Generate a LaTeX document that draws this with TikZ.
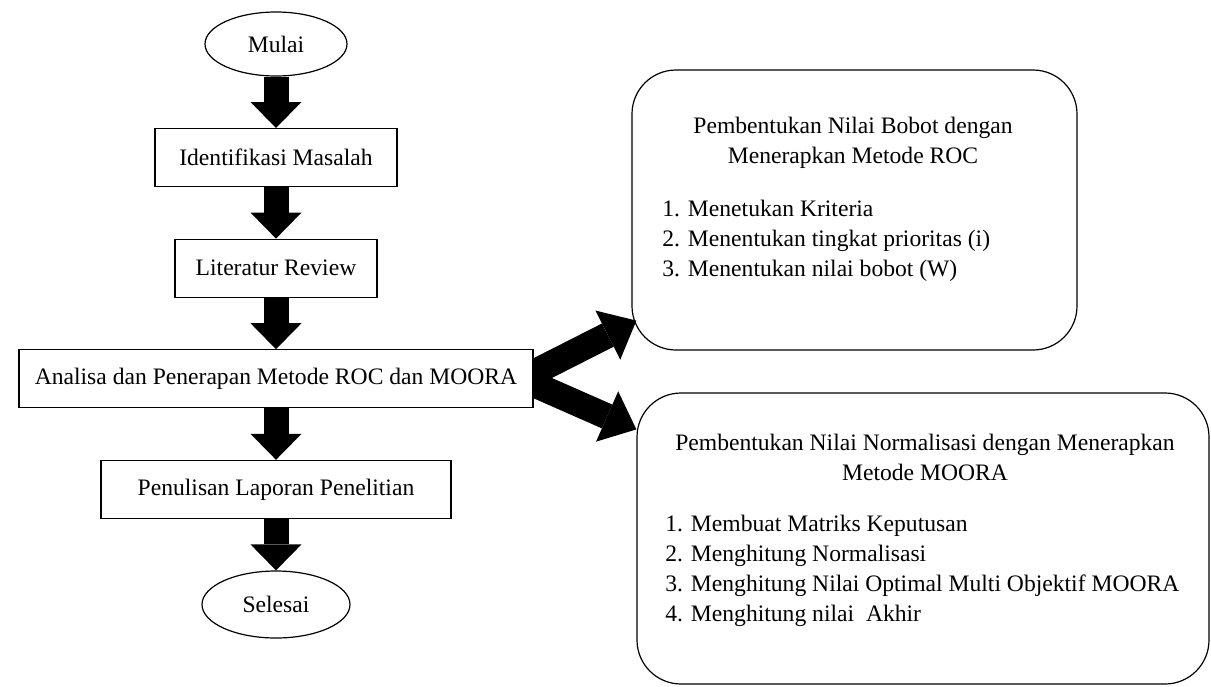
\documentclass[tikz,border=0pt]{standalone}
\usepackage{fontspec}
\setmainfont{Liberation Serif}
\usetikzlibrary{shapes, arrows.meta, positioning, calc, backgrounds}

\begin{document}
\begin{tikzpicture}[
  font=\fontsize{11.8}{15}\selectfont,
  terminal/.style={ellipse, draw=black, line width=0.6pt, fill=white, inner sep=0pt, minimum width=71pt, minimum height=32pt},
  process/.style={rectangle, draw=black, line width=0.6pt, fill=white, minimum height=29pt},
  roundbox/.style={rectangle, draw=black, line width=0.6pt, rounded corners=22pt},
  fatarrow/.style={line width=12.5pt, -{Triangle[width=25.5pt, length=13pt, line width=0pt]}},
  slantarrow/.style={line width=13pt, -{Triangle[width=27.5pt, length=16pt, line width=0pt]}},
  node distance=25.7pt
]
  \useasboundingbox (0,0) rectangle (605.5pt,-343pt);
\node[terminal] (mulai) at (138pt,-22pt) {Mulai};
\node[process, minimum width=121pt, below=of mulai] (identifikasi) {Identifikasi Masalah};
\node[process, minimum width=101pt, below=of identifikasi] (literatur) {Literatur Review};
\node[process, minimum width=257pt, below=of literatur] (analisa) {Analisa dan Penerapan Metode ROC dan MOORA};
\node[process, minimum width=175pt, below=of analisa] (penulisan) {Penulisan Laporan Penelitian};
\node[terminal, minimum width=74pt, minimum height=33.5pt, below=of penulisan] (selesai) {Selesai};
% kotak metode
\node[roundbox, minimum width=222.5pt, minimum height=140pt] (roc) at (427.25pt,-105pt) {};
\node[roundbox, minimum width=286pt, minimum height=145.5pt] (moora) at (461.5pt,-269.25pt) {};
\node[align=center, anchor=base] (roc_title) at (426.5pt,-81.5pt) {Pembentukan Nilai Bobot dengan\\Menerapkan Metode ROC};
\node[align=left, anchor=base west, inner sep=0pt] (roc_steps) at (331pt,-138pt) {1. Menetukan Kriteria\\2. Menentukan tingkat prioritas (i)\\3. Menentukan nilai bobot (W)};
\node[align=center, anchor=base] (moora_title) at (462.5pt,-240pt) {Pembentukan Nilai Normalisasi dengan Menerapkan\\Metode MOORA};
\node[align=left, anchor=base west, inner sep=0pt] (moora_steps) at (332.5pt,-310.5pt) {1. Membuat Matriks Keputusan\\2. Menghitung Normalisasi\\3. Menghitung Nilai Optimal Multi Objektif MOORA\\4. Menghitung nilai\ \ Akhir};
\coordinate (roc_tip) at ($(roc.south west)+(2.5pt,15pt)$);
\coordinate (moora_tip) at ($(moora.north west)+(0pt,-18.5pt)$);
\coordinate (fork) at ($(analisa.east)+(-6pt,0)$);
\draw[fatarrow] (mulai) -- (identifikasi);
\draw[fatarrow] (identifikasi) -- (literatur);
\draw[fatarrow] (literatur) -- (analisa);
\draw[fatarrow] (analisa) -- (penulisan);
\draw[fatarrow] (penulisan) -- (selesai);
\begin{scope}[on background layer]
\draw[slantarrow] (fork) -- (roc_tip);
\draw[slantarrow] (fork) -- (moora_tip);
\end{scope}
\end{tikzpicture}
\end{document}
